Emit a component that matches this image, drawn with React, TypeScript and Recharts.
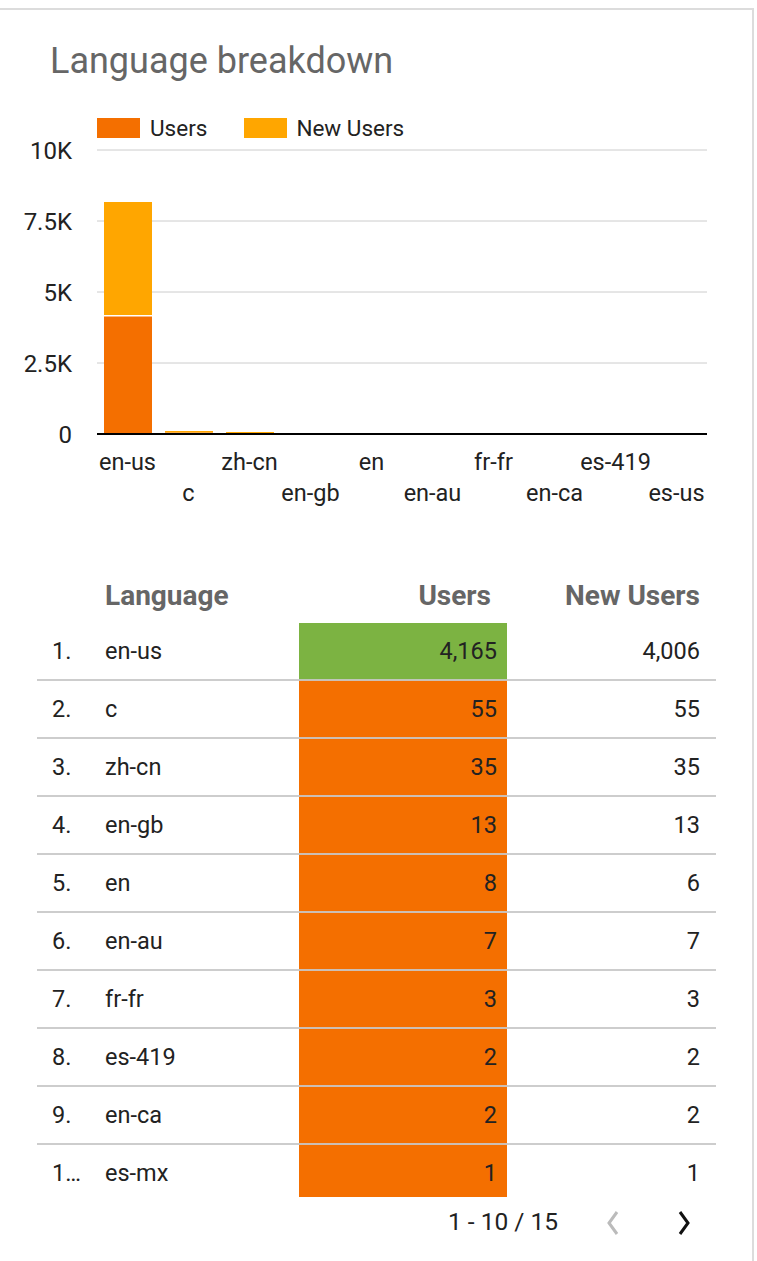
import React from "react";
import {
  BarChart,
  Bar,
  XAxis,
  YAxis,
  CartesianGrid,
  Legend,
  Rectangle,
} from "recharts";

// chart data (order as on the x axis)
const chartLanguages = ["en-us", "c", "zh-cn", "en-gb", "en", "en-au", "fr-fr", "en-ca", "es-419", "es-us"];
const chartUsers = [4165, 55, 35, 13, 8, 7, 3, 2, 2, 1];
const chartNewUsers = [4006, 55, 35, 13, 6, 7, 3, 2, 2, 1];
const yTicks = [0, 2500, 5000, 7500, 10000];

// table data
const tableRanks = ["1.", "2.", "3.", "4.", "5.", "6.", "7.", "8.", "9.", "1…"];
const tableLanguages = ["en-us", "c", "zh-cn", "en-gb", "en", "en-au", "fr-fr", "es-419", "en-ca", "es-mx"];
const tableUsers = ["4,165", "55", "35", "13", "8", "7", "3", "2", "2", "1"];
const tableNewUsers = ["4,006", "55", "35", "13", "6", "7", "3", "2", "2", "1"];

const USERS_COLOR = "#f46f00";
const NEW_USERS_COLOR = "#ffa600";
const FONT = "Roboto, 'Noto Sans', sans-serif";

const data = chartLanguages.map((lang, i) => ({
  lang,
  users: chartUsers[i],
  newUsers: chartNewUsers[i],
}));

const formatK = (v: number) => (v === 0 ? "0" : `${v / 1000}K`);

const AltTick = (props: any) => {
  const { x, y, payload, index } = props;
  return (
    <text
      x={x}
      y={y + (index % 2 === 0 ? 36 : 67)}
      textAnchor="middle"
      fill="#222"
      fontSize={23.5}
      fontFamily={FONT}
    >
      {payload.value}
    </text>
  );
};

// top segment with a thin white seam at its base
const NewUsersShape = (props: any) => {
  const { x, y, width, height } = props;
  return (
    <g>
      <Rectangle {...props} />
      {height > 10 && (
        <line x1={x} x2={x + width} y1={y + height} y2={y + height} stroke="#fff" strokeWidth={1.5} />
      )}
    </g>
  );
};

const LegendContent = () => (
  <div style={{ display: "flex", alignItems: "center", fontFamily: FONT, fontSize: 22.5, color: "#222", height: 30 }}>
    <span style={{ width: 43, height: 20, background: USERS_COLOR, marginRight: 10 }} />
    <span style={{ marginRight: 37 }}>Users</span>
    <span style={{ width: 43, height: 20, background: NEW_USERS_COLOR, marginRight: 9 }} />
    <span>New Users</span>
  </div>
);

const rowTop = 622;
const rowH = 58;
const cellText: React.CSSProperties = { position: "absolute", fontSize: 23.5, color: "#222" };
const headText: React.CSSProperties = { position: "absolute", top: 579, fontSize: 28, fontWeight: 700, color: "#666" };

const App: React.FC = () => {
  return (
    <div style={{ position: "relative", width: 757, height: 1261, overflow: "hidden", background: "#fff", fontFamily: FONT }}>
      <style>{`body{margin:0;}`}</style>
      <div
        style={{
          position: "absolute",
          left: -2,
          top: 8,
          width: 756,
          height: 1300,
          border: "2px solid #dcdcdc",
          boxSizing: "border-box",
        }}
      />
      <div style={{ position: "absolute", left: 50, top: 40, fontSize: 36, color: "#666", fontWeight: 400 }}>
        Language breakdown
      </div>

      <div style={{ position: "absolute", left: 0, top: 0 }}>
        <BarChart
          width={757}
          height={520}
          data={data}
          margin={{ top: 120, right: 50, left: 0, bottom: 0 }}
          barSize={48}
        >
          <Legend
            verticalAlign="top"
            align="left"
            content={<LegendContent />}
            wrapperStyle={{ top: 113, left: 97, height: 30 }}
          />
          <CartesianGrid vertical={false} stroke="#cccccc" strokeWidth={1} />
          <XAxis
            dataKey="lang"
            interval={0}
            tickLine={false}
            tickSize={0}
            tickMargin={0}
            axisLine={{ stroke: "#000", strokeWidth: 2 }}
            tick={<AltTick />}
            height={86}
          />
          <YAxis
            width={97}
            domain={[0, 10000]}
            ticks={yTicks}
            tickFormatter={formatK}
            axisLine={false}
            tickLine={false}
            tickSize={0}
            tickMargin={25}
            tick={{ fontSize: 24, fill: "#222", fontFamily: FONT }}
          />
          <Bar dataKey="users" name="Users" stackId="a" fill={USERS_COLOR} isAnimationActive={false} />
          <Bar
            dataKey="newUsers"
            name="New Users"
            stackId="a"
            fill={NEW_USERS_COLOR}
            shape={<NewUsersShape />}
            isAnimationActive={false}
          />
        </BarChart>
      </div>

      {/* table */}
      <div style={{ position: "absolute", left: 299, top: rowTop + 1, width: 208, height: rowH - 1, background: "#7cb342" }} />
      <div style={{ position: "absolute", left: 299, top: rowTop + rowH, width: 208, height: 1197 - rowTop - rowH, background: USERS_COLOR }} />
      <div style={{ ...headText, left: 105 }}>Language</div>
      <div style={{ ...headText, right: 757 - 491 }}>Users</div>
      <div style={{ ...headText, right: 757 - 700 }}>New Users</div>
      {tableLanguages.map((lang, i) => {
        const top = rowTop + i * rowH;
        return (
          <React.Fragment key={lang}>
            <div style={{ ...cellText, top: top + 15, left: 52 }}>{tableRanks[i]}</div>
            <div style={{ ...cellText, top: top + 15, left: 105 }}>{lang}</div>
            <div style={{ ...cellText, top: top + 15, right: 757 - 497 }}>{tableUsers[i]}</div>
            <div style={{ ...cellText, top: top + 15, right: 757 - 700 }}>{tableNewUsers[i]}</div>
            {i < 9 && (
              <div style={{ position: "absolute", top: top + rowH - 1, left: 37, width: 679, height: 2, background: "rgba(200,200,200,0.9)" }} />
            )}
          </React.Fragment>
        );
      })}
      <div style={{ ...cellText, top: 1207, left: 448, fontSize: 24.5 }}>1 - 10 / 15</div>
      <svg style={{ position: "absolute", left: 600, top: 1208 }} width={100} height={32}>
        <polyline points="17,4 9,15 17,26" fill="none" stroke="#bbb" strokeWidth={3} />
        <polyline points="80,4 88,15 80,26" fill="none" stroke="#111" strokeWidth={3} />
      </svg>
    </div>
  );
};

export default App;
